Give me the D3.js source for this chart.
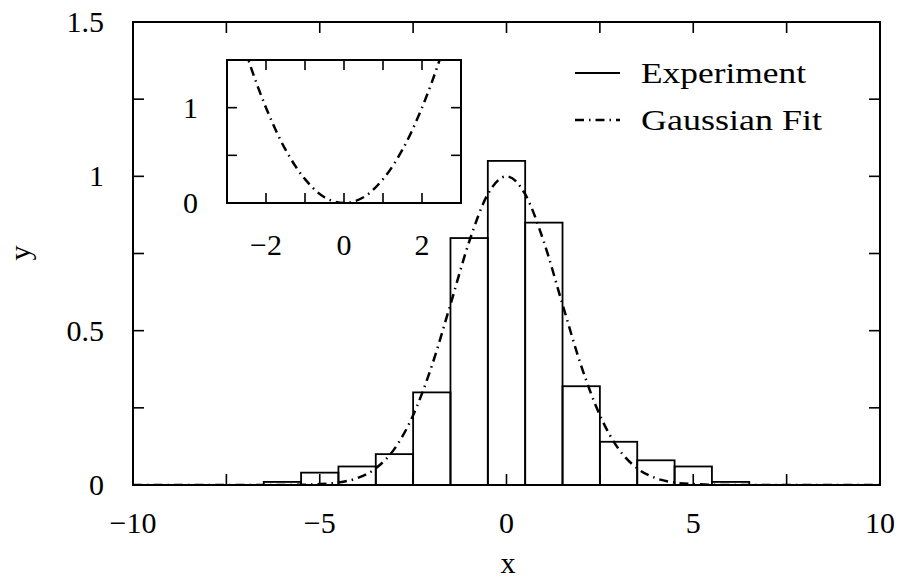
<!DOCTYPE html>
<meta charset="utf-8">
<style>
    body { margin: 0; background: #fff; }
    text {
        font-family: "Liberation Serif", "DejaVu Serif", serif;
        fill: #000;
        font-size: 30px;
    }
    .frame { fill: none; stroke: #000; stroke-width: 2px; }
    .tick-mark { stroke: #000; stroke-width: 1.6px; }
    .bar { fill: none; stroke: #000; stroke-width: 1.8px; }
    .fit { fill: none; stroke: #000; stroke-width: 2.5px; stroke-dasharray: 9, 5, 1.5, 5; }
</style>
<body>
<svg width="900" height="581"></svg>
</body>
<script src="https://cdn.jsdelivr.net/npm/d3@7"></script>
<script>
    // histogram bins (centre, height)
    var binCentres = [-6, -5, -4, -3, -2, -1, 0, 1, 2, 3, 4, 5, 6];
    var binHeights = [0.01, 0.04, 0.06, 0.10, 0.30, 0.80, 1.05, 0.85, 0.32, 0.14, 0.08, 0.06, 0.01];

    // gaussian fit
    var fitX = [-10, -6, -5, -4.5, -4, -3.5, -3, -2.5, -2, -1.5, -1, -0.5, 0, 0.5, 1, 1.5, 2, 2.5, 3, 3.5, 4, 4.5, 5, 6, 10];
    var fitY = [0, 0, 0.003, 0.008, 0.022, 0.054, 0.117, 0.226, 0.386, 0.585, 0.788, 0.942, 1.0, 0.942, 0.788, 0.585, 0.386, 0.226, 0.117, 0.054, 0.022, 0.008, 0.003, 0, 0];

    // inset curve
    var insetX = [-3, -2.5, -2, -1.5, -1, -0.5, 0, 0.5, 1, 1.5, 2, 2.5, 3];
    var insetY = [2.25, 1.56, 1.0, 0.56, 0.25, 0.06, 0, 0.06, 0.25, 0.56, 1.0, 1.56, 2.25];

    var xTickLabels = [-10, -5, 0, 5, 10];
    var yTickLabels = [0, 0.5, 1, 1.5];
    var insetXLabels = [-2, 0, 2];
    var insetYLabels = [0, 1];

    var legendNames = ["Experiment", "Gaussian Fit"];
    var legendWidths = [165, 181];   // text runs wide in the original typeface

    var svg = d3.select("svg");

    // main panel
    var x = d3.scaleLinear().domain([-10, 10]).range([133, 880]);
    var y = d3.scaleLinear().domain([0, 1.5]).range([485, 22]);

    function fmt(v) { return String(v).replace("-", "\u2212"); }

    // ticks on all four sides, pointing inwards
    function drawTicks(g, xs, ys, xv, yv, len) {
        var x0 = xs.range()[0], x1 = xs.range()[1], y0 = ys.range()[0], y1 = ys.range()[1];
        xv.forEach(function (v) {
            g.append("line").attr("class", "tick-mark")
                .attr("x1", xs(v)).attr("x2", xs(v)).attr("y1", y0).attr("y2", y0 - len);
            g.append("line").attr("class", "tick-mark")
                .attr("x1", xs(v)).attr("x2", xs(v)).attr("y1", y1).attr("y2", y1 + len);
        });
        yv.forEach(function (v) {
            g.append("line").attr("class", "tick-mark")
                .attr("x1", x0).attr("x2", x0 + len).attr("y1", ys(v)).attr("y2", ys(v));
            g.append("line").attr("class", "tick-mark")
                .attr("x1", x1).attr("x2", x1 - len).attr("y1", ys(v)).attr("y2", ys(v));
        });
    }

    var main = svg.append("g");

    main.append("clipPath").attr("id", "mainClip")
        .append("rect").attr("x", 133).attr("y", 22).attr("width", 747).attr("height", 463);

    // bars
    main.selectAll(".bar")
        .data(binCentres)
        .enter().append("rect")
        .attr("class", "bar")
        .attr("x", function (d) { return x(d - 0.5); })
        .attr("width", function (d) { return x(d + 0.5) - x(d - 0.5); })
        .attr("y", function (d, i) { return y(binHeights[i]); })
        .attr("height", function (d, i) { return y(0) - y(binHeights[i]); });

    // fit curve
    var fitLine = d3.line()
        .x(function (d) { return x(d[0]); })
        .y(function (d) { return y(d[1]); })
        .curve(d3.curveMonotoneX);
    main.append("path")
        .attr("class", "fit")
        .attr("clip-path", "url(#mainClip)")
        .attr("d", fitLine(d3.zip(fitX, fitY)));

    drawTicks(main, x, y, d3.range(-10, 10.01, 2.5), d3.range(0, 1.51, 0.25), 11);

    main.append("rect").attr("class", "frame")
        .attr("x", 133).attr("y", 22).attr("width", 747).attr("height", 463);

    main.selectAll(".xl")
        .data(xTickLabels)
        .enter().append("text")
        .attr("x", function (d) { return x(d); })
        .attr("y", 533)
        .style("text-anchor", "middle")
        .text(fmt);

    main.selectAll(".yl")
        .data(yTickLabels)
        .enter().append("text")
        .attr("x", 104)
        .attr("y", function (d) { return y(d) + 10; })
        .style("text-anchor", "end")
        .text(fmt);

    main.append("text").attr("x", 508).attr("y", 573).style("text-anchor", "middle").text("x");
    main.append("text")
        .attr("transform", "translate(30,253) rotate(-90)")
        .style("text-anchor", "middle")
        .text("y");

    // legend
    var legend = main.append("g");
    legendNames.forEach(function (name, i) {
        var ly = 73 + i * 47;
        legend.append("line")
            .attr("class", i === 0 ? "bar" : "fit")
            .attr("x1", 575).attr("x2", 620).attr("y1", ly).attr("y2", ly);
        legend.append("text").attr("x", 641).attr("y", ly + 10)
            .attr("textLength", legendWidths[i])
            .attr("lengthAdjust", "spacingAndGlyphs")
            .text(name);
    });

    // inset panel
    var ix = d3.scaleLinear().domain([-3, 3]).range([227, 461]);
    var iy = d3.scaleLinear().domain([0, 1.5]).range([203, 60]);
    var inset = svg.append("g");

    inset.append("rect").attr("x", 227).attr("y", 60).attr("width", 234).attr("height", 143)
        .style("fill", "#fff");
    inset.append("clipPath").attr("id", "insetClip")
        .append("rect").attr("x", 227).attr("y", 60).attr("width", 234).attr("height", 143);

    var insetLine = d3.line()
        .x(function (d) { return ix(d[0]); })
        .y(function (d) { return iy(d[1]); })
        .curve(d3.curveCatmullRom);
    inset.append("path")
        .attr("class", "fit")
        .attr("clip-path", "url(#insetClip)")
        .attr("d", insetLine(d3.zip(insetX, insetY)));

    drawTicks(inset, ix, iy, d3.range(-3, 3.01, 1), d3.range(0, 1.51, 0.5), 10);

    inset.append("rect").attr("class", "frame")
        .attr("x", 227).attr("y", 60).attr("width", 234).attr("height", 143);

    inset.selectAll(".ixl")
        .data(insetXLabels)
        .enter().append("text")
        .attr("x", function (d) { return ix(d); })
        .attr("y", 255)
        .style("text-anchor", "middle")
        .text(fmt);

    inset.selectAll(".iyl")
        .data(insetYLabels)
        .enter().append("text")
        .attr("x", 198)
        .attr("y", function (d) { return iy(d) + 10; })
        .style("text-anchor", "end")
        .text(fmt);
</script>
